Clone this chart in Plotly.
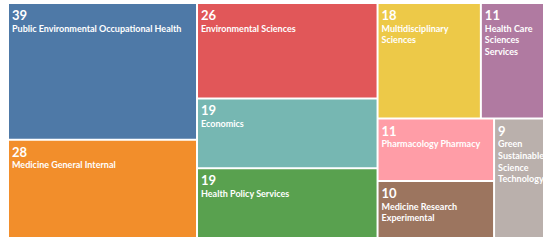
import plotly.graph_objects as go

categories = [
    "Public Environmental Occupational Health",
    "Medicine General Internal",
    "Environmental Sciences",
    "Economics",
    "Health Policy Services",
    "Multidisciplinary Sciences",
    "Health Care Sciences Services",
    "Pharmacology Pharmacy",
    "Medicine Research Experimental",
    "Green Sustainable Science Technology",
]
counts = [39, 28, 26, 19, 19, 18, 11, 11, 10, 9]

colors = ["#4e79a7", "#f28e2b", "#e15759", "#76b7b2", "#59a14f",
          "#edc948", "#b07aa1", "#ff9da7", "#9c755f", "#bab0ac"]

# display wrapping (styling only)
wrap = {
    "Multidisciplinary Sciences": "Multidisciplinary<br>Sciences",
    "Health Care Sciences Services": "Health Care<br>Sciences<br>Services",
    "Medicine Research Experimental": "Medicine Research<br>Experimental",
    "Green Sustainable Science Technology": "Green<br>Sustainable<br>Science<br>Technology",
}
display = [wrap.get(c, c) for c in categories]
texts = [f"<span style='font-size:13px'><b>{v}</b></span><br><b>{d}</b>"
         for v, d in zip(counts, display)]

fig = go.Figure(go.Treemap(
    labels=categories,
    parents=[""] * len(categories),
    values=counts,
    text=texts,
    texttemplate="%{text}",
    textposition="top left",
    textfont=dict(family="Lato", size=9, color="white"),
    marker=dict(colors=colors, line=dict(width=0),
                pad=dict(t=0, l=0, r=0, b=0)),
    tiling=dict(packing="squarify", squarifyratio=1.618034, pad=2),
    pathbar=dict(visible=False),
    sort=True,
    hoverinfo="skip",
))
fig.update_layout(
    width=550, height=244,
    margin=dict(l=9, r=7, t=4, b=7),
    paper_bgcolor="white",
    uniformtext=dict(minsize=9, mode="show"),
)
fig.write_html(
    "out.html",
    config={"displayModeBar": False},
    post_script="document.body.style.margin='0';document.body.style.overflow='hidden';",
)
